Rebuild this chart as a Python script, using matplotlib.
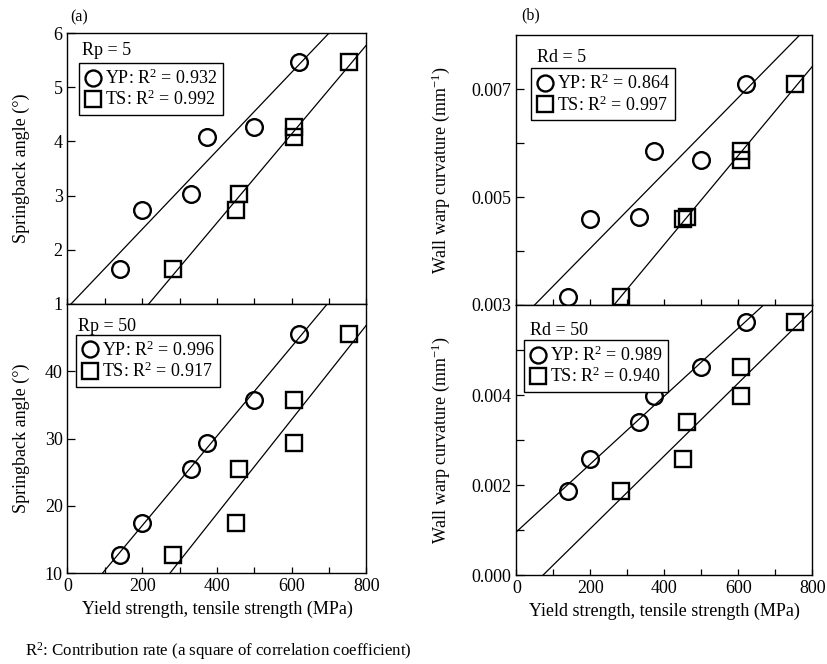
import numpy as np
import matplotlib
matplotlib.use('Agg')
import matplotlib.pyplot as plt
from matplotlib.lines import Line2D
from matplotlib.ticker import MultipleLocator, FixedLocator, FormatStrFormatter

plt.rcParams['font.family'] = ['Liberation Serif', 'DejaVu Serif']
plt.rcParams['mathtext.fontset'] = 'custom'
plt.rcParams['mathtext.rm'] = 'Liberation Serif'
plt.rcParams['mathtext.it'] = 'Liberation Serif:italic'
plt.rcParams['mathtext.bf'] = 'Liberation Serif:bold'

# ---------------- data ----------------
# strengths of the six materials (MPa)
yp_strength = [140, 198, 331, 372, 498, 619]
ts_strength = [283, 450, 460, 606, 606, 754]

# (a) springback angle (deg)
springback_rp5 = [1.64, 2.73, 3.03, 4.08, 4.27, 5.47]
springback_rp50 = [12.7, 17.4, 25.5, 29.3, 35.7, 45.5]
# (b) wall warp curvature (1/mm)
curv_rd5 = [0.00315, 0.00460, 0.00463, 0.00586, 0.00568, 0.00709]
curv_rd50 = [0.00187, 0.00258, 0.00339, 0.00397, 0.00462, 0.00562]

r2_rp5 = ['0.932', '0.992']
r2_rp50 = ['0.996', '0.917']
r2_rd5 = ['0.864', '0.997']
r2_rd50 = ['0.989', '0.940']

panel_titles = ['Rp = 5', 'Rp = 50', 'Rd = 5', 'Rd = 50']

W, H = 828, 664
fig = plt.figure(figsize=(W / 100, H / 100), dpi=100)


def ax_at(left, top, right, bottom):
    return fig.add_axes([left / W, 1 - bottom / H, (right - left) / W, (bottom - top) / H])


axA1 = ax_at(67.5, 33, 366.5, 304)
axA2 = ax_at(67.5, 304, 366.5, 573)
axB1 = ax_at(516.5, 35, 812.5, 305)
axB2 = ax_at(516.5, 305, 812.5, 575)

FS = 13
MS = 12
MEW = 1.7


def draw(ax, y, ylim, r2, title, title_xy, leg_xy, ylabel, ylab_x):
    xs = np.array([0, 800])
    for x, m in [(yp_strength, 'o'), (ts_strength, 's')]:
        p = np.polyfit(x, y, 1)
        ax.plot(xs, np.polyval(p, xs), color='black', lw=0.9, zorder=2)
        ax.plot(x, y, linestyle='none', marker=m, ms=MS, mew=MEW,
                mfc='none', mec='black', zorder=3)
    ax.set_xlim(0, 800)
    ax.set_ylim(*ylim)
    ax.text(title_xy[0], title_xy[1], title, transform=ax.transAxes,
            fontsize=FS, ha='left', va='center')
    handles = [Line2D([], [], linestyle='none', marker='o', ms=MS - 0.5, mew=MEW, mfc='none', mec='black'),
               Line2D([], [], linestyle='none', marker='s', ms=MS - 0.5, mew=MEW, mfc='none', mec='black')]
    labels = ['YP: R$^2$ = ' + r2[0], 'TS: R$^2$ = ' + r2[1]]
    leg = ax.legend(handles, labels, loc='upper left', bbox_to_anchor=leg_xy,
                    borderaxespad=0, fontsize=FS, frameon=True, fancybox=False,
                    edgecolor='black', framealpha=1, borderpad=0.3,
                    handletextpad=0.15, handlelength=1.0, labelspacing=0.12)
    leg.get_frame().set_linewidth(1.0)
    ax.set_ylabel(ylabel, fontsize=FS)
    ax.yaxis.set_label_coords(ylab_x, 0.5)
    ax.xaxis.set_major_locator(MultipleLocator(200))
    ax.xaxis.set_minor_locator(MultipleLocator(100))
    ax.tick_params(axis='both', which='both', direction='in', labelsize=FS,
                   top=False, right=False, width=0.9)
    ax.tick_params(axis='x', which='both', length=4)
    ax.tick_params(axis='y', which='both', length=6)
    for s in ax.spines.values():
        s.set_linewidth(1.0)


draw(axA1, springback_rp5, (1, 6), r2_rp5, panel_titles[0], (0.048, 0.935),
     (0.038, 0.889), 'Springback angle (°)', -0.125)
draw(axA2, springback_rp50, (10, 50), r2_rp50, panel_titles[1], (0.035, 0.915),
     (0.028, 0.885), 'Springback angle (°)', -0.125)
draw(axB1, curv_rd5, (0.003, 0.008), r2_rd5, panel_titles[2], (0.068, 0.918),
     (0.048, 0.877), 'Wall warp curvature (mm$^{-1}$)', -0.218)
draw(axB2, curv_rd50, (0.0, 0.006), r2_rd50, panel_titles[3], (0.047, 0.907),
     (0.024, 0.87), 'Wall warp curvature (mm$^{-1}$)', -0.218)

# y ticks
axA1.yaxis.set_major_locator(FixedLocator([1, 2, 3, 4, 5, 6]))
axA2.yaxis.set_major_locator(FixedLocator([10, 20, 30, 40]))
axB1.yaxis.set_major_locator(FixedLocator([0.003, 0.005, 0.007]))
axB1.yaxis.set_minor_locator(FixedLocator([0.004, 0.006]))
axB1.yaxis.set_major_formatter(FormatStrFormatter('%.3f'))
axB2.yaxis.set_major_locator(FixedLocator([0.000, 0.002, 0.004]))
axB2.yaxis.set_minor_locator(FixedLocator([0.001, 0.003, 0.005]))
axB2.yaxis.set_major_formatter(FormatStrFormatter('%.3f'))

for ax in (axA1, axB1):
    ax.tick_params(axis='x', labelbottom=False)

for ax in (axA2, axB2):
    ax.set_xlabel('Yield strength, tensile strength (MPa)', fontsize=FS, labelpad=4)

fig.text(70 / W, 1 - 17 / H, '(a)', fontsize=FS - 1.5, ha='left', va='center')
fig.text(521 / W, 1 - 15 / H, '(b)', fontsize=FS - 1.5, ha='left', va='center')
fig.text(25 / W, 1 - 651 / H, 'R$^2$: Contribution rate (a square of correlation coefficient)',
         fontsize=12.2, ha='left', va='center')

fig.savefig('out.png', dpi=100)
